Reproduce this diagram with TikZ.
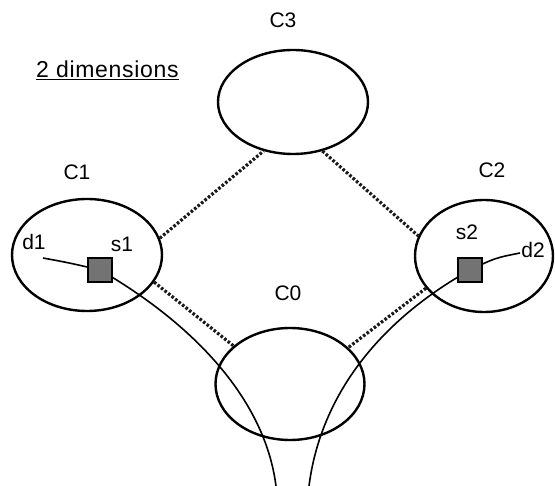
\documentclass[tikz,border=0pt]{standalone}
\usepackage{fontspec}
\setmainfont{Liberation Sans}
\usetikzlibrary{shapes.geometric}
\begin{document}
\begin{tikzpicture}[x=1pt,y=-1pt,
  cell/.style={draw=black, line width=2.4pt, ellipse, inner sep=0pt},
  lbl/.style={font=\fontsize{21}{24}\selectfont, inner sep=0pt},
  hatch/.style={draw=black!90, line width=3.2pt, dash pattern=on 2.6pt off 1.9pt},
  wire/.style={draw=black, line width=1.6pt},
  sbox/.style={draw=black, line width=2.4pt, fill=black!55, minimum size=24pt, inner sep=0pt}]
\fill[white] (0,0) rectangle (555,486);
\useasboundingbox (0,0) rectangle (555,486);

% cells
\node[cell, minimum width=150pt, minimum height=104pt] (c3) at (293,102) {};
\node[cell, minimum width=150pt, minimum height=112pt] (c1) at (87,255) {};
\node[cell, minimum width=138pt, minimum height=112pt] (c2) at (484,256) {};
\node[cell, minimum width=149pt, minimum height=112pt] (c0) at (290,384) {};

% labels
\node[lbl] (t3) at (283,20) {C3};
\node[lbl] (t1) at (77,172) {C1};
\node[lbl] (t2) at (492,170) {C2};
\node[lbl] (t0) at (288,293) {C0};
\node[lbl, anchor=west, font=\fontsize{23}{27}\selectfont\addfontfeature{LetterSpace=3}] (title) at (36,70) {\underline{2 dimensions}};
\node[lbl] (td1) at (34,242) {d1};
\node[lbl] (ts1) at (122,244) {s1};
\node[lbl] (ts2) at (467,232) {s2};
\node[lbl] (td2) at (533,250) {d2};

% hatched links
\draw[hatch] (c1.13) -- (c3.239);
\draw[hatch] (c3.301) -- (c2.163);
\draw[hatch] (c1.338) -- (c0.146);
\draw[hatch] (c2.209) -- (c0.32);

% squares and wires
\coordinate (d1pt) at (43,258);
\coordinate (d2pt) at (520,253);
\coordinate (botL) at (276,486);
\coordinate (botR) at (309,486);
\node[sbox] (s1box) at (100,270) {};
\node[sbox] (s2box) at (470,270) {};
\draw[wire] (d1pt) .. controls (70,263) .. (s1box.center)
  .. controls (195,325) and (265,400) .. (botL);
\draw[wire] (d2pt) .. controls (495,258) .. (s2box.center)
  .. controls (374,324) and (320,400) .. (botR);
\node[sbox] at (s1box) {};
\node[sbox] at (s2box) {};
\end{tikzpicture}
\end{document}
